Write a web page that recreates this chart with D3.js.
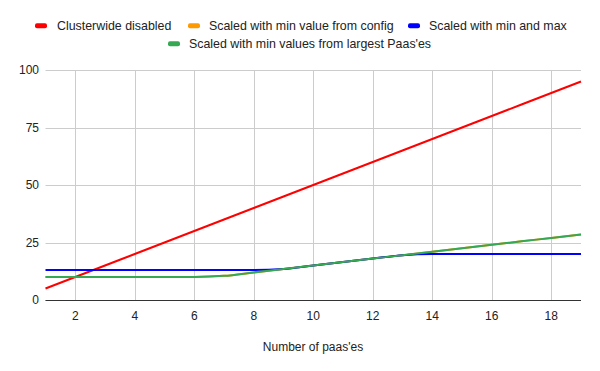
<!DOCTYPE html>
<html><head><meta charset="utf-8">
<script src="https://cdn.jsdelivr.net/npm/d3@7"></script>
<style>body{margin:0;background:#fff}svg{display:block;font-family:"Liberation Sans",Arial,sans-serif}</style>
</head><body><svg id="c" width="600" height="371"></svg>
<script>
const xs = [1,2,3,4,5,6,7,8,9,10,11,12,13,14,15,16,17,18,19];
const clusterwide = [5,10,15,20,25,30,35,40,45,50,55,60,65,70,75,80,85,90,95];
const minConfig = [10,10,10,10,10,10,10.5,12,13.5,15,16.5,18,19.5,21,22.5,24,25.5,27,28.5];
const minMax = [13,13,13,13,13,13,13,13,13.5,15,16.5,18,19.5,20,20,20,20,20,20];
const minLargest = [10,10,10,10,10,10,10.5,12,13.5,15,16.5,18,19.5,21,22.5,24,25.5,27,28.5];
const yTicks = [0,25,50,75,100];
const xTicks = [2,4,6,8,10,12,14,16,18];
const seriesNames = ["Clusterwide disabled","Scaled with min value from config","Scaled with min and max","Scaled with min values from largest Paas'es"];
const colors = ["#ff0000","#ff9900","#0000ff","#34a853"];
const xTitle = "Number of paas'es";

const svg = d3.select("#c");
const x = d3.scaleLinear().domain([1,19]).range([45.5,581]);
const y = d3.scaleLinear().domain([0,100]).range([300,70]);

const g = svg.append("g");
g.selectAll(".gy").data(yTicks).join("line")
  .attr("x1",45.5).attr("x2",581).attr("y1",d=>Math.round(y(d))+0.5).attr("y2",d=>Math.round(y(d))+0.5)
  .attr("stroke","#cccccc").attr("stroke-width",1);
g.selectAll(".gx").data(xTicks).join("line")
  .attr("x1",d=>Math.round(x(d))+0.5).attr("x2",d=>Math.round(x(d))+0.5).attr("y1",70).attr("y2",300)
  .attr("stroke","#cccccc").attr("stroke-width",1);

g.selectAll(".yl").data(yTicks).join("text")
  .attr("x",39).attr("y",d=>y(d)+4).attr("text-anchor","end")
  .attr("font-size",12).attr("fill","#222").text(d=>d);
g.selectAll(".xl").data(xTicks).join("text")
  .attr("x",d=>x(d)).attr("y",320).attr("text-anchor","middle")
  .attr("font-size",12).attr("fill","#222").text(d=>d);

svg.append("text").attr("x",313).attr("y",351).attr("text-anchor","middle")
  .attr("font-size",12).attr("fill","#222").text(xTitle);

const data = [clusterwide,minConfig,minMax,minLargest];
const line = d3.line().x((d,i)=>x(xs[i])).y(d=>y(d)).curve(d3.curveMonotoneX);
data.forEach((s,k)=>{
  svg.append("path").attr("d",line(s)).attr("fill","none")
    .attr("stroke",colors[k]).attr("stroke-width",2);
});

svg.append("line").attr("x1",45.5).attr("x2",581).attr("y1",300.5).attr("y2",300.5)
  .attr("stroke","#333").attr("stroke-width",1);

// legend
const leg = [{i:0,x:35,tx:57,y:25.7},{i:1,x:188,tx:209,y:25.7},{i:2,x:408,tx:429,y:25.7},{i:3,x:168,tx:189,y:43.7}];
leg.forEach(l=>{
  svg.append("rect").attr("x",l.x).attr("y",l.y-2.5).attr("width",12).attr("height",5).attr("rx",2)
    .attr("fill",colors[l.i]);
  svg.append("text").attr("x",l.tx).attr("y",l.y+4.3).attr("font-size",12.4).attr("fill","#222")
    .text(seriesNames[l.i]);
});
</script></body></html>
